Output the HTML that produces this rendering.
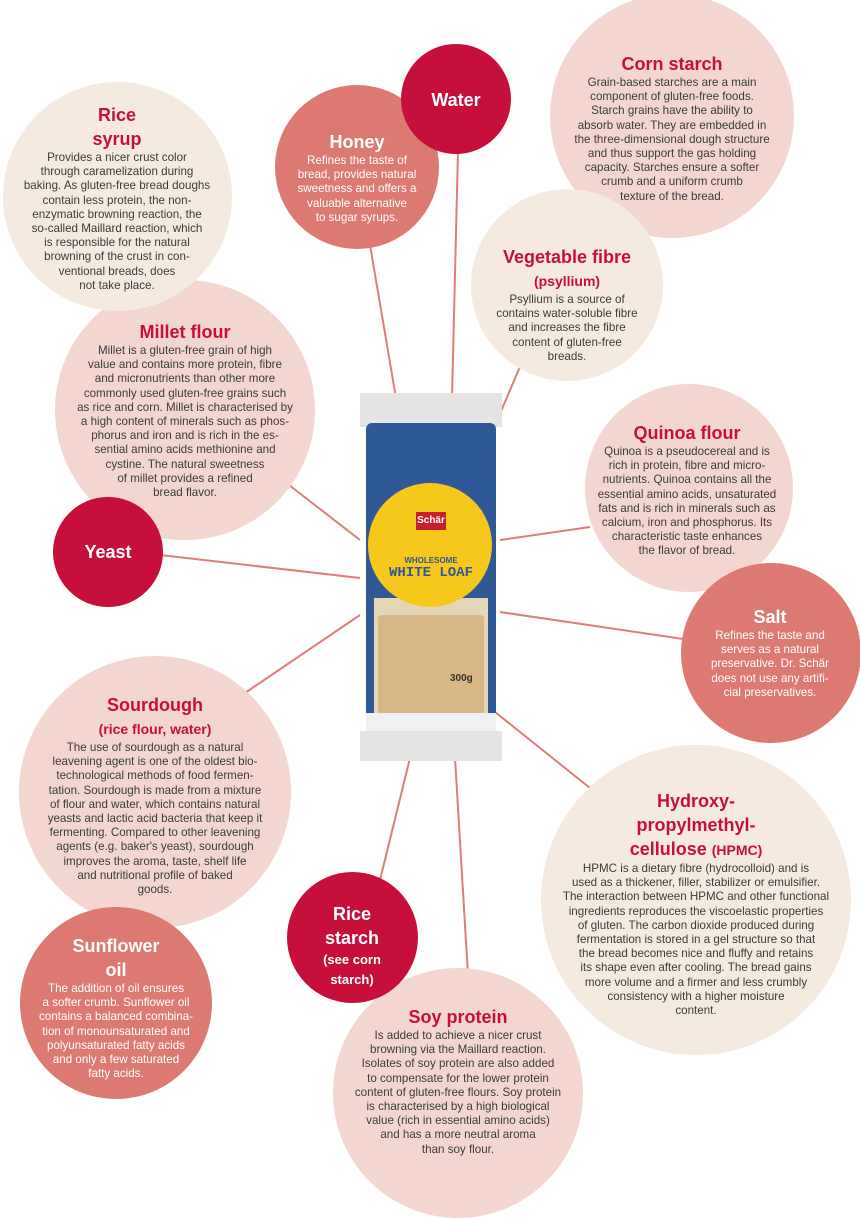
<!DOCTYPE html>
<html><head><meta charset="utf-8"><style>
body{margin:0;width:860px;height:1210px;position:relative;background:#fff;overflow:hidden;font-family:"Liberation Sans Narrow","Liberation Sans",sans-serif;}
.c{position:absolute;border-radius:50%;}
.cr{background:#f5eadf}.pk{background:#f3d6d0}.sa{background:#dc7a72}.rd{background:#c70f3b}
.t{position:absolute;text-align:center;color:#3b3b3b;font-size:11.6px;line-height:14.2px;white-space:nowrap}
.h{font-weight:bold;color:#c70f3b;font-size:18px;line-height:24px}
.w{color:#fff}.w .h{color:#fff}
.s{font-size:13px;line-height:20px}
</style></head><body>
<svg style="position:absolute;left:0;top:0" width="860" height="1210">
<g stroke="#df7d76" stroke-width="2">
<line x1="370" y1="245" x2="396" y2="398"/>
<line x1="458" y1="150" x2="452" y2="398"/>
<line x1="525" y1="355" x2="493" y2="430"/>
<line x1="280" y1="478" x2="360" y2="540"/>
<line x1="160" y1="555" x2="360" y2="578"/>
<line x1="590" y1="527" x2="500" y2="540"/>
<line x1="690" y1="640" x2="500" y2="612"/>
<line x1="245" y1="693" x2="360" y2="615"/>
<line x1="595" y1="792" x2="495" y2="712"/>
<line x1="380" y1="880" x2="410" y2="758"/>
<line x1="468" y1="975" x2="455" y2="758"/>
</g></svg>

<div class="c pk" style="left:550px;top:-6px;width:244px;height:244px"></div>
<div class="c cr" style="left:471px;top:189px;width:192px;height:192px"></div>
<div class="c sa" style="left:275px;top:85px;width:164px;height:164px"></div>
<div class="c rd" style="left:401px;top:44px;width:110px;height:110px"></div>
<div class="c pk" style="left:55px;top:280px;width:260px;height:260px"></div>
<div class="c cr" style="left:3px;top:82px;width:229px;height:229px"></div>
<div class="c rd" style="left:53px;top:497px;width:110px;height:110px"></div>
<div class="c pk" style="left:585px;top:384px;width:208px;height:208px"></div>
<div class="c sa" style="left:681px;top:563px;width:180px;height:180px"></div>
<div class="c pk" style="left:19px;top:656px;width:272px;height:272px"></div>
<div class="c cr" style="left:541px;top:745px;width:310px;height:310px"></div>
<div class="c sa" style="left:20px;top:907px;width:192px;height:192px"></div>
<div class="c pk" style="left:333px;top:968px;width:250px;height:250px"></div>
<div class="c rd" style="left:287px;top:872px;width:131px;height:131px"></div>

<div style="position:absolute;left:360px;top:393px;width:142px;height:368px">
 <div style="position:absolute;left:0;top:0;width:142px;height:34px;background:#e4e4e4"></div>
 <div style="position:absolute;left:6px;top:30px;width:130px;height:312px;background:#2f5896;border-radius:6px"></div>
 <div style="position:absolute;left:14px;top:205px;width:114px;height:130px;background:#e6d6b8"></div>
 <div style="position:absolute;left:18px;top:222px;width:106px;height:100px;background:#d8b686;border-radius:4px"></div>
 <div style="position:absolute;left:8px;top:90px;width:124px;height:124px;border-radius:50%;background:#f7c81c"></div>
 <div style="position:absolute;left:56px;top:119px;width:30px;height:18px;background:#c8202f;color:#fff;font:bold 10px 'Liberation Sans',sans-serif;text-align:center;line-height:18px">Schär</div>
 <div style="position:absolute;left:0;width:142px;top:163px;text-align:center;color:#2f5896;font:bold 8px 'Liberation Sans',sans-serif">WHOLESOME</div>
 <div style="position:absolute;left:0;width:142px;top:172px;text-align:center;color:#2f5896;font:bold 14px 'Liberation Mono',monospace">WHITE LOAF</div>
 <div style="position:absolute;left:90px;top:280px;color:#333;font:bold 10px 'Liberation Sans',sans-serif">300g</div>
 <div style="position:absolute;left:6px;top:320px;width:130px;height:20px;background:#eef0f2"></div>
 <div style="position:absolute;left:0;top:338px;width:142px;height:30px;background:#e4e4e4"></div>
</div>

<div class="t" style="left:17px;width:200px;top:103px"><div class="h">Rice<br>syrup</div>Provides a nicer crust color<br>through caramelization during<br>baking. As gluten-free bread doughs<br>contain less protein, the non-<br>enzymatic browning reaction, the<br>so-called Maillard reaction, which<br>is responsible for the natural<br>browning of the crust in con-<br>ventional breads, does<br>not take place.</div>
<div class="t w" style="left:282px;width:150px;top:130px"><div class="h">Honey</div>Refines the taste of<br>bread, provides natural<br>sweetness and offers a<br>valuable alternative<br>to sugar syrups.</div>
<div class="t w" style="left:406px;width:100px;top:88px"><div class="h">Water</div></div>
<div class="t" style="left:562px;width:220px;top:52px"><div class="h">Corn starch</div>Grain-based starches are a main<br>component of gluten-free foods.<br>Starch grains have the ability to<br>absorb water. They are embedded in<br>the three-dimensional dough structure<br>and thus support the gas holding<br>capacity. Starches ensure a softer<br>crumb and a uniform crumb<br>texture of the bread.</div>
<div class="t" style="left:477px;width:180px;top:245px"><div class="h">Vegetable fibre</div><div class="h" style="font-size:14px">(psyllium)</div>Psyllium is a source of<br>contains water-soluble fibre<br>and increases the fibre<br>content of gluten-free<br>breads.</div>
<div class="t" style="left:65px;width:240px;top:320px"><div class="h">Millet flour</div>Millet is a gluten-free grain of high<br>value and contains more protein, fibre<br>and micronutrients than other more<br>commonly used gluten-free grains such<br>as rice and corn. Millet is characterised by<br>a high content of minerals such as phos-<br>phorus and iron and is rich in the es-<br>sential amino acids methionine and<br>cystine. The natural sweetness<br>of millet provides a refined<br>bread flavor.</div>
<div class="t w" style="left:58px;width:100px;top:540px"><div class="h">Yeast</div></div>
<div class="t" style="left:592px;width:190px;top:421px"><div class="h">Quinoa flour</div>Quinoa is a pseudocereal and is<br>rich in protein, fibre and micro-<br>nutrients. Quinoa contains all the<br>essential amino acids, unsaturated<br>fats and is rich in minerals such as<br>calcium, iron and phosphorus. Its<br>characteristic taste enhances<br>the flavor of bread.</div>
<div class="t w" style="left:690px;width:160px;top:605px"><div class="h">Salt</div>Refines the taste and<br>serves as a natural<br>preservative. Dr. Schär<br>does not use any artifi-<br>cial preservatives.</div>
<div class="t" style="left:35px;width:240px;top:693px"><div class="h">Sourdough</div><div class="h" style="font-size:14px">(rice flour, water)</div>The use of sourdough as a natural<br>leavening agent is one of the oldest bio-<br>technological methods of food fermen-<br>tation. Sourdough is made from a mixture<br>of flour and water, which contains natural<br>yeasts and lactic acid bacteria that keep it<br>fermenting. Compared to other leavening<br>agents (e.g. baker's yeast), sourdough<br>improves the aroma, taste, shelf life<br>and nutritional profile of baked<br>goods.</div>
<div class="t" style="left:551px;width:290px;top:789px"><div class="h">Hydroxy-<br>propylmethyl-<br>cellulose <span style="font-size:14px">(HPMC)</span></div>HPMC is a dietary fibre (hydrocolloid) and is<br>used as a thickener, filler, stabilizer or emulsifier.<br>The interaction between HPMC and other functional<br>ingredients reproduces the viscoelastic properties<br>of gluten. The carbon dioxide produced during<br>fermentation is stored in a gel structure so that<br>the bread becomes nice and fluffy and retains<br>its shape even after cooling. The bread gains<br>more volume and a firmer and less crumbly<br>consistency with a higher moisture<br>content.</div>
<div class="t w" style="left:302px;width:100px;top:902px"><div class="h">Rice<br>starch</div><div class="h s">(see corn<br>starch)</div></div>
<div class="t w" style="left:31px;width:170px;top:934px"><div class="h">Sunflower<br>oil</div>The addition of oil ensures<br>a softer crumb. Sunflower oil<br>contains a balanced combina-<br>tion of monounsaturated and<br>polyunsaturated fatty acids<br>and only a few saturated<br>fatty acids.</div>
<div class="t" style="left:348px;width:220px;top:1005px"><div class="h">Soy protein</div>Is added to achieve a nicer crust<br>browning via the Maillard reaction.<br>Isolates of soy protein are also added<br>to compensate for the lower protein<br>content of gluten-free flours. Soy protein<br>is characterised by a high biological<br>value (rich in essential amino acids)<br>and has a more neutral aroma<br>than soy flour.</div>
</body></html>
